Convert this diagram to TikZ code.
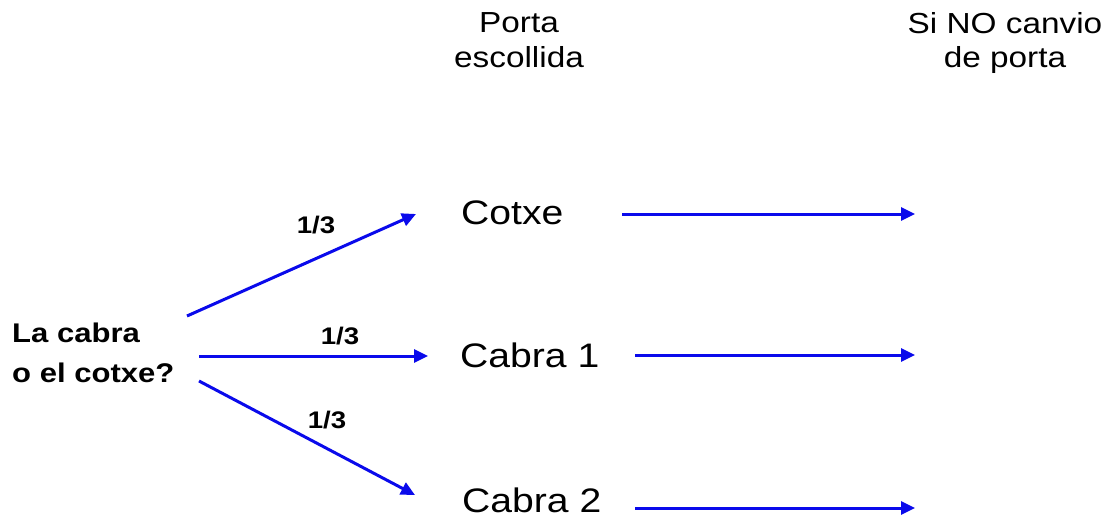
\documentclass[tikz,border=0pt]{standalone}
\usepackage{fontspec}
\setmainfont{Liberation Sans}[FakeStretch=1.15]
\usetikzlibrary{arrows.meta}
\definecolor{arrowblue}{RGB}{10,10,235}
\begin{document}
\begin{tikzpicture}[x=1pt,y=-1pt,
  head/.style={inner sep=0pt, align=center, font=\fontsize{29}{35}\selectfont},
  opt/.style={inner sep=0pt, font=\fontsize{34}{40}\selectfont},
  quest/.style={inner sep=0pt, align=left, font=\bfseries\fontsize{27}{40}\selectfont},
  prob/.style={inner sep=0pt, font=\bfseries\fontsize{24}{26}\selectfont},
  arr/.style={draw=arrowblue, line width=3pt, -{Triangle[length=14pt,width=13pt]}}]
\useasboundingbox (0,0) rectangle (1106,519);
\node[head, anchor=base] (h1) at (519,67) {Porta\\escollida};
\node[head, anchor=base] (h2) at (1005,68) {Si NO canvio\\de porta};
\node[opt, anchor=base west] (c) at (461,224) {Cotxe};
\node[opt, anchor=base west] (c1) at (460,367) {Cabra 1};
\node[opt, anchor=base west] (c2) at (462,512) {Cabra 2};
\node[quest, anchor=base west] (q) at (12,382) {La cabra\\o el cotxe?};
\node[prob] (p1) at (316,225) {1/3};
\node[prob] (p2) at (340,336) {1/3};
\node[prob] (p3) at (327,420) {1/3};
% start and end points
\coordinate (qs1) at (187,316);
\coordinate (qs2) at (199,356);
\coordinate (qs3) at (199,381);
\coordinate (ce) at (416,214);
\coordinate (c1e) at (428,356);
\coordinate (c2e) at (415,495);
\coordinate (rs1) at (622,214);
\coordinate (rs2) at (635,355);
\coordinate (rs3) at (635,508);
\coordinate (re1) at (915,214);
\coordinate (re2) at (915,355);
\coordinate (re3) at (915,508);
\draw[arr] (qs1) -- (ce);
\draw[arr] (qs2) -- (c1e);
\draw[arr] (qs3) -- (c2e);
\draw[arr] (rs1) -- (re1);
\draw[arr] (rs2) -- (re2);
\draw[arr] (rs3) -- (re3);
\end{tikzpicture}
\end{document}
